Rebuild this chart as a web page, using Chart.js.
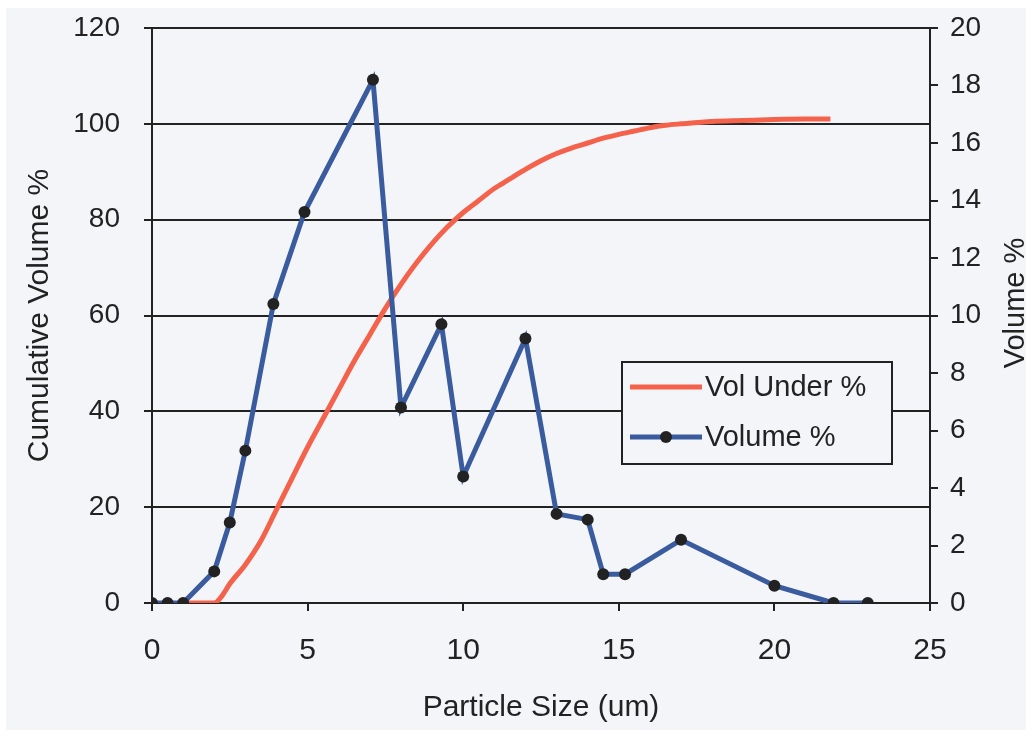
<!DOCTYPE html>
<html><head><meta charset="utf-8">
<script src="https://cdn.jsdelivr.net/npm/chart.js@4.4.1/dist/chart.umd.min.js"></script>
<style>html,body{margin:0;padding:0;background:#fff;}canvas{display:block}</style>
</head><body>
<canvas id="c" width="1034" height="734"></canvas>
<script>
// Cumulative volume (Vol Under %) – left axis
const cumSizes  = [1, 2, 2.25, 2.5, 3, 3.5, 4, 4.5, 5, 5.5, 6, 6.5, 7, 7.5, 8, 8.5, 9, 9.5, 10, 10.5, 11, 11.5, 12, 12.5, 13, 13.5, 14, 14.5, 15, 15.5, 16, 16.5, 17, 18, 19, 20, 21, 21.8];
const cumValues = [0, 0, 1.5, 4, 8, 13, 19.5, 26, 32.5, 38.5, 44.5, 50.5, 56, 61.5, 66.5, 71, 75, 78.5, 81.5, 84, 86.5, 88.5, 90.5, 92.3, 93.8, 95, 96, 97, 97.8, 98.5, 99.2, 99.7, 100, 100.5, 100.7, 100.9, 101, 101];
// Volume % – right axis
const volSizes  = [0, 0.5, 1, 2, 2.5, 3, 3.9, 4.9, 7.1, 8, 9.3, 10, 12, 13, 14, 14.5, 15.2, 17, 20, 21.9, 23];
const volValues = [0, 0, 0, 1.1, 2.8, 5.3, 10.4, 13.6, 18.2, 6.8, 9.7, 4.4, 9.2, 3.1, 2.9, 1.0, 1.0, 2.2, 0.6, 0, 0];
// Axis ranges / steps
const xRange = [0, 25, 5];
const leftRange = [0, 120, 20];
const rightRange = [0, 20, 2];
const seriesNames = ['Vol Under %', 'Volume %'];
const axisTitles = ['Particle Size (um)', 'Cumulative Volume %', 'Volume %'];

const INK = '#222';
const RED = '#f4624c';
const BLUE = '#3a5c9e';
const BG = '#f3f5f8';
const FONT = '"Liberation Sans", Arial, sans-serif';

const bgPlugin = {
  id: 'bg',
  beforeDraw(chart) {
    const ctx = chart.ctx;
    ctx.save();
    ctx.fillStyle = '#ffffff';
    ctx.fillRect(0, 0, chart.width, chart.height);
    ctx.fillStyle = BG;
    ctx.fillRect(6, 8, chart.width - 14, chart.height - 12);
    ctx.restore();
  }
};

const extrasPlugin = {
  id: 'extras',
  afterDraw(chart) {
    const ctx = chart.ctx;
    ctx.save();
    // right axis title, reading bottom-to-top
    ctx.translate(1016, 303);
    ctx.rotate(-Math.PI / 2);
    ctx.fillStyle = INK;
    ctx.font = '29px ' + FONT;
    ctx.textAlign = 'center';
    ctx.textBaseline = 'middle';
    ctx.fillText(axisTitles[2], 0, 0);
    ctx.restore();

    // legend
    ctx.save();
    const bx = 622, by = 362, bw = 270, bh = 102;
    ctx.fillStyle = BG;
    ctx.fillRect(bx, by, bw, bh);
    ctx.strokeStyle = INK;
    ctx.lineWidth = 2;
    ctx.strokeRect(bx, by, bw, bh);
    const ds = chart.data.datasets;
    const rows = [387, 437];
    ds.forEach((d, i) => {
      const y = rows[i];
      ctx.strokeStyle = d.borderColor;
      ctx.lineWidth = 5;
      ctx.beginPath();
      ctx.moveTo(630, y);
      ctx.lineTo(702, y);
      ctx.stroke();
      if (d.pointRadius > 0) {
        ctx.fillStyle = d.pointBackgroundColor;
        ctx.beginPath();
        ctx.arc(666, y, 6, 0, Math.PI * 2);
        ctx.fill();
      }
      ctx.fillStyle = INK;
      ctx.font = '29px ' + FONT;
      ctx.textAlign = 'left';
      ctx.textBaseline = 'middle';
      ctx.fillText(d.label, 705, y + 1);
    });
    ctx.restore();
  }
};

new Chart(document.getElementById('c'), {
  type: 'line',
  data: {
    datasets: [
      {
        label: seriesNames[0],
        data: cumSizes.map((x, i) => ({ x, y: cumValues[i] })),
        yAxisID: 'y',
        borderColor: RED,
        backgroundColor: RED,
        borderWidth: 5,
        pointRadius: 0,
        cubicInterpolationMode: 'monotone',
        order: 2
      },
      {
        label: seriesNames[1],
        data: volSizes.map((x, i) => ({ x, y: volValues[i] })),
        yAxisID: 'y1',
        borderColor: BLUE,
        backgroundColor: BLUE,
        borderWidth: 5,
        pointRadius: 6,
        pointBackgroundColor: INK,
        pointBorderColor: INK,
        pointBorderWidth: 0,
        tension: 0,
        order: 1
      }
    ]
  },
  options: {
    responsive: false,
    animation: false,
    events: [],
    layout: { padding: { top: 28, left: 0, right: 0, bottom: 0 } },
    plugins: { legend: { display: false }, tooltip: { enabled: false } },
    scales: {
      x: {
        type: 'linear', position: 'bottom',
        min: xRange[0], max: xRange[1],
        ticks: { stepSize: xRange[2], color: INK, font: { family: FONT, size: 30 }, padding: 22, maxRotation: 0 },
        grid: { drawOnChartArea: false, drawTicks: true, tickLength: 8, color: INK, lineWidth: 2 },
        border: { color: INK, width: 2 },
        title: { display: true, text: axisTitles[0], color: INK, font: { family: FONT, size: 30 }, padding: { top: 0, bottom: 8 } },
        afterFit: s => { s.height = 131; s.paddingLeft = 0; s.paddingRight = 0; }
      },
      y: {
        position: 'left',
        min: leftRange[0], max: leftRange[1],
        ticks: { stepSize: leftRange[2], color: INK, font: { family: FONT, size: 28 }, padding: 24 },
        grid: { color: INK, lineWidth: 2, tickLength: 8 },
        border: { color: INK, width: 2 },
        title: { display: true, text: axisTitles[1], color: INK, font: { family: FONT, size: 30 }, padding: { top: 22, bottom: 0 } },
        afterFit: s => { s.width = 152; s.paddingTop = 0; s.paddingBottom = 0; }
      },
      y1: {
        position: 'right',
        min: rightRange[0], max: rightRange[1],
        ticks: { stepSize: rightRange[2], color: INK, font: { family: FONT, size: 28 }, padding: 12 },
        grid: { drawOnChartArea: false, tickLength: 8, color: INK, lineWidth: 2 },
        border: { color: INK, width: 2 },
        afterFit: s => { s.width = 104; s.paddingTop = 0; s.paddingBottom = 0; }
      }
    }
  },
  plugins: [bgPlugin, extrasPlugin]
});
</script>
</body></html>
